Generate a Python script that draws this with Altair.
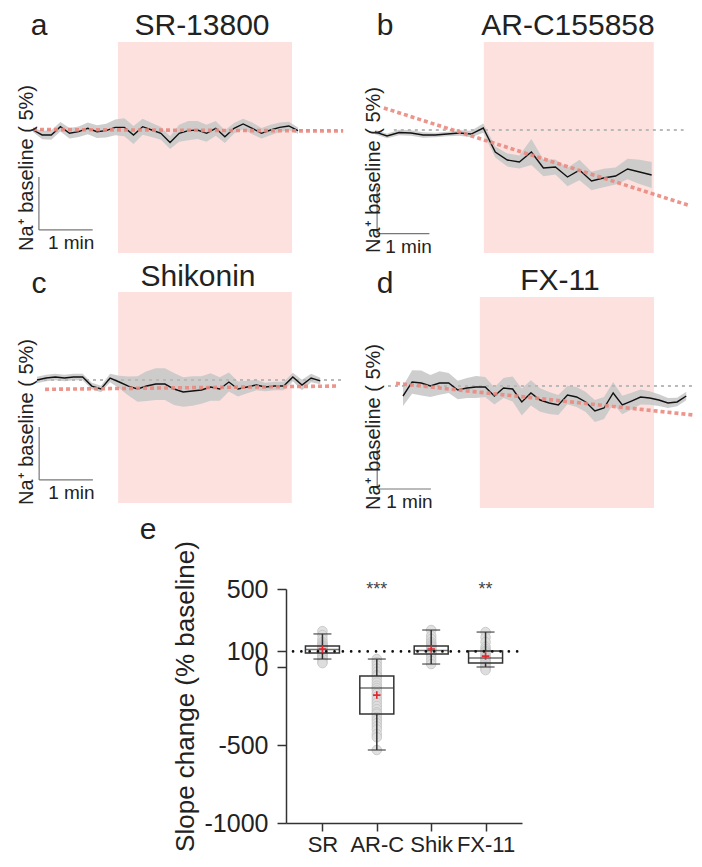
import altair as alt
import pandas as pd

FONT = "Liberation Sans"
INK = "#222222"
M = 8  # page margin: reference pixel -> chart pixel

# ---------------- traces: Na+ change from baseline (%) ----------------
a_mean = [0.0, -0.47, -0.47, 0.31, -0.31, -0.16, 0.16, -0.16, -0.06, 0.25,
          0.25, -0.47, 0.31, 0.0, -0.31, -1.19, -0.31, -0.06, 0.0, -0.31,
          0.16, -0.63, 0.16, 0.57, 0.16, -0.31, 0.0, 0.25, 0.38, -0.06]
a_sem = [0.2, 0.4, 0.45, 0.45, 0.5, 0.5, 0.55, 0.6, 0.65, 0.75,
         0.85, 0.85, 0.75, 0.65, 0.6, 0.6, 0.8, 0.9, 0.85, 0.8,
         0.7, 0.6, 0.5, 0.5, 0.55, 0.5, 0.5, 0.45, 0.4, 0.3]

b_mean = [-0.21, -0.64, -0.27, -0.32, -0.54, -0.54, -0.43, -0.32, -0.43, 0.21,
          -2.36, -3.22, -3.43, -2.36, -4.07, -3.97, -5.04, -4.29, -5.47, -5.14,
          -4.93, -4.18, -4.5, -4.82]
b_sem = [0.25, 0.25, 0.3, 0.3, 0.3, 0.25, 0.25, 0.3, 0.35, 0.5,
         0.6, 0.7, 0.7, 1.4, 0.9, 0.8, 1.0, 1.1, 1.0, 1.0,
         0.9, 1.1, 1.3, 1.4]

c_mean = [0.0, 0.19, 0.28, 0.19, 0.28, 0.28, -0.57, -0.85, 0.19, -0.19,
          -0.57, -0.85, -0.57, -0.38, -0.38, -0.85, -1.13, -1.04, -0.94, -0.66,
          -0.85, -0.19, -0.85, -0.66, -0.47, -0.66, -0.57, -0.57, 0.28, -0.47,
          0.19, -0.09]
c_sem = [0.3, 0.3, 0.3, 0.3, 0.3, 0.3, 0.3, 0.3, 0.4, 0.6,
         0.9, 1.2, 1.4, 1.5, 1.5, 1.5, 1.4, 1.4, 1.3, 1.3,
         1.1, 0.9, 0.7, 0.6, 0.5, 0.4, 0.4, 0.4, 0.4, 0.5,
         0.4, 0.3]

d_mean = [-1.19, 0.48, 0.36, 0.0, 0.36, 0.36, -0.48, -0.24, -0.12, -0.12,
          -1.19, -0.24, -0.36, -1.9, -0.83, -1.67, -2.02, -2.26, -1.07, -1.31,
          -1.9, -2.98, -2.62, -0.83, -2.26, -1.79, -1.31, -1.43, -1.67, -2.02,
          -1.9, -1.19]
d_sem = [1.2, 1.4, 1.5, 1.3, 1.4, 1.2, 1.1, 1.2, 1.3, 1.2,
         1.0, 1.2, 1.5, 1.6, 1.5, 1.4, 1.3, 1.2, 1.1, 1.2,
         1.2, 1.3, 1.3, 1.3, 1.1, 1.0, 0.9, 0.8, 0.7, 0.6,
         0.5, 0.5]

sample_min = [0.17, 0.23, 0.17, 0.17]          # sampling interval (min)
treat_start = [1.58, 2.08, 1.51, 1.43]          # drug application (min)
treat_end = [4.82, 5.33, 4.74, 4.67]
fit_t0 = [0.0, 0.17, 0.15, -0.13]               # linear fit (red dotted)
fit_y0 = [0.05, 2.36, -0.88, 0.32]
fit_t1 = [5.77, 5.98, 5.58, 5.54]
fit_y1 = [-0.1, -8.04, -0.57, -3.54]
base_t0 = [0.0, 0.36, 0.0, -0.28]               # baseline (grey dashed)
base_t1 = [5.77, 5.90, 5.69, 5.54]

panel_letters = ["a", "b", "c", "d"]
panel_titles = ["SR-13800", "AR-C155858", "Shikonin", "FX-11"]
y_label = "Na\u207a baseline ( 5%)"

# ---------------- box plot: slope change (% baseline) ----------------
cats = ["SR", "AR-C", "Shik", "FX-11"]
q1 = [90, -301, 83, 26]
q3 = [135, -58, 135, 103]
median = [112, -135, 105, 58]
mean = [115, -180, 115, 70]
whisk_lo = [51, -532, 19, 0]
whisk_hi = [212, 51, 237, 224]
pts_SR = [230, 205, 180, 160, 150, 140, 135, 130, 125, 120, 118, 115, 110, 105,
          100, 98, 95, 92, 90, 85, 80, 70, 60, 51, 35, 25]
pts_ARC = [51, 30, 10, -10, -30, -50, -60, -80, -100, -120, -135, -150, -170,
           -190, -210, -230, -250, -270, -290, -300, -320, -340, -360, -380,
           -400, -430, -450, -532]
pts_Shik = [237, 200, 180, 160, 150, 140, 135, 128, 120, 115, 110, 105, 100,
            95, 90, 85, 80, 60, 40, 19]
pts_FX = [224, 190, 160, 130, 115, 103, 95, 85, 75, 65, 58, 50, 40, 30, 26,
          15, 5, 0, -10, -20]
sig_cats = ["AR-C", "FX-11"]
sig_text = ["***", "**"]

# ---------------- layout (reference pixels) ----------------
LAYOUT = [
    dict(x0=33, ppm=53.75, y0=130, ppp=10.6, ext=(-11.6, 8.3), bar=(0.11, -4.43),
         letter=(39, 35), title=(202, 35), ylab=(27, 168)),
    dict(x0=375, ppm=52.3, y0=130, ppp=9.33, ext=(-13.18, 9.43), bar=(0.04, -6.11),
         letter=(385, 35), title=(568, 35), ylab=(374, 170)),
    dict(x0=37, ppm=53.75, y0=380, ppp=10.6, ext=(-11.6, 8.3), bar=(0.04, -4.43),
         letter=(39, 293), title=(198, 286), ylab=(27, 422)),
    dict(x0=403, ppm=53.75, y0=386, ppp=8.4, ext=(-14.52, 10.6), bar=(-0.48, -7.26),
         letter=(385, 293), title=(560, 290), ylab=(374, 427)),
]

means = [a_mean, b_mean, c_mean, d_mean]
sems = [a_sem, b_sem, c_sem, d_sem]

layers = []


def txt(label, px, py, size, angle=0, baseline="alphabetic"):
    kw = dict(text=label, font=FONT, fontSize=size, color=INK, align="center",
              baseline=baseline)
    if angle:
        kw["angle"] = angle
    return alt.Chart(pd.DataFrame({"k": [0]})).mark_text(**kw).encode(
        x=alt.value(px - M), y=alt.value(py - M))


for i in range(4):
    L = LAYOUT[i]
    xr0 = L["x0"] - M
    yr0 = L["y0"] - M
    xs = alt.Scale(domain=[0, 5], range=[xr0, xr0 + 5 * L["ppm"]], nice=False, zero=False)
    ys = alt.Scale(domain=[-10, 10], range=[yr0 + 10 * L["ppp"], yr0 - 10 * L["ppp"]],
                   nice=False, zero=False)

    def X(f):
        return alt.X(f, type="quantitative", scale=xs, axis=None)

    def Y(f):
        return alt.Y(f, type="quantitative", scale=ys, axis=None)

    m = means[i]
    s = sems[i]
    tr = pd.DataFrame({
        "t": [k * sample_min[i] for k in range(len(m))],
        "m": m,
        "lo": [v - e for v, e in zip(m, s)],
        "hi": [v + e for v, e in zip(m, s)],
    })
    win = pd.DataFrame({"t0": [treat_start[i]], "t1": [treat_end[i]],
                        "y0": [L["ext"][0]], "y1": [L["ext"][1]]})
    fit = pd.DataFrame({"t": [fit_t0[i], fit_t1[i]], "y": [fit_y0[i], fit_y1[i]]})
    base = pd.DataFrame({"t0": [base_t0[i]], "t1": [base_t1[i]], "y": [0.0]})
    bt, btop = L["bar"]
    sb = pd.DataFrame({"t0": [bt], "t1": [bt + 1.0], "ytop": [btop], "ybot": [btop - 5.0],
                       "tl": [bt + 0.6]})

    layers += [
        alt.Chart(win).mark_rect(color="#fce1df").encode(x=X("t0"), x2="t1", y=Y("y0"), y2="y1"),
        alt.Chart(tr).mark_area(color="#c9c9c9", opacity=0.9).encode(x=X("t"), y=Y("lo"), y2="hi"),
        alt.Chart(base).mark_rule(color="#b9b9b9", strokeWidth=2, strokeDash=[3, 4]).encode(
            x=X("t0"), x2="t1", y=Y("y")),
        alt.Chart(tr).mark_line(color="#111111", strokeWidth=1.4).encode(x=X("t"), y=Y("m")),
        alt.Chart(fit).mark_line(color="#e98a80", strokeWidth=3.6, strokeDash=[4, 3],
                                 opacity=0.9).encode(x=X("t"), y=Y("y")),
        alt.Chart(sb).mark_rule(color="#777777", strokeWidth=1.2).encode(
            x=X("t0"), y=Y("ytop"), y2="ybot"),
        alt.Chart(sb).mark_rule(color="#777777", strokeWidth=1.2).encode(
            x=X("t0"), x2="t1", y=Y("ybot")),
        alt.Chart(sb).mark_text(text="1 min", font=FONT, fontSize=19, color=INK,
                                baseline="middle", dy=13).encode(x=X("tl"), y=Y("ybot")),
    ]
    layers.append(txt(panel_letters[i], L["letter"][0], L["letter"][1], 30))
    layers.append(txt(panel_titles[i], L["title"][0], L["title"][1], 30))
    layers.append(txt(y_label, L["ylab"][0], L["ylab"][1], 20, angle=270, baseline="middle"))

# ---------------- box plot panel ----------------
AX_X = 286  # reference x of the y axis line
AX_Y = 823  # reference y of the x axis line
bx = alt.Scale(type="point", domain=cats, range=[AX_X - M, 522 - M], padding=0.67)
by = alt.Scale(domain=[-1000, 500], range=[AX_Y - M, 589 - M], nice=False, zero=False)


def BX(axis=None):
    if axis is None:
        return alt.X("cat:N", scale=bx, axis=None)
    return alt.X("cat:N", scale=bx, axis=axis)


def BY(f, axis=None):
    if axis is None:
        return alt.Y(f, type="quantitative", scale=by, axis=None)
    return alt.Y(f, type="quantitative", scale=by, axis=axis)


box = pd.DataFrame({"cat": cats, "q1": q1, "q3": q3, "med": median, "mean": mean,
                    "lo": whisk_lo, "hi": whisk_hi})
pts = pd.DataFrame({
    "cat": ["SR"] * len(pts_SR) + ["AR-C"] * len(pts_ARC) + ["Shik"] * len(pts_Shik)
           + ["FX-11"] * len(pts_FX),
    "v": pts_SR + pts_ARC + pts_Shik + pts_FX,
})
sig = pd.DataFrame({"cat": sig_cats, "s": sig_text, "y": [462, 462]})
ref = pd.DataFrame({"y": [100]})

x_axis = alt.Axis(orient="bottom", offset=(AX_Y - M) - 851, title=None, labelAngle=0,
                  labelFont=FONT, labelFontSize=22, labelColor=INK, labelPadding=3,
                  labelOverlap=False, tickSize=8, tickWidth=1.5, tickColor="#333",
                  domainColor="#333", domainWidth=1.5, grid=False)
y_axis = alt.Axis(orient="left", offset=-(AX_X - M), values=[500, 100, 0, -500, -1000],
                  labelExpr="'' + datum.value",
                  title="Slope change (% baseline)", titleFont=FONT, titleFontSize=26,
                  titleFontWeight="normal", titleColor=INK, titleAngle=270,
                  titleAlign="center", titleBaseline="bottom",
                  titleX=198 - AX_X, titleY=696 - M,
                  labelFont=FONT, labelFontSize=25, labelColor=INK, labelPadding=9,
                  labelOverlap=False, tickSize=9, tickWidth=1.5, tickColor="#333",
                  domainColor="#333", domainWidth=1.5, grid=False)

layers += [
    alt.Chart(pts).mark_point(filled=True, fill="#dedede", stroke="#c6c6c6", strokeWidth=1,
                              size=90, opacity=0.9).encode(x=BX(), y=BY("v")),
    alt.Chart(box).mark_rule(color="#333", strokeWidth=1.5).encode(x=BX(), y=BY("lo"), y2="q1"),
    alt.Chart(box).mark_rule(color="#333", strokeWidth=1.5).encode(x=BX(), y=BY("q3"), y2="hi"),
    alt.Chart(box).mark_tick(color="#333", thickness=1.5, size=18).encode(x=BX(), y=BY("lo")),
    alt.Chart(box).mark_tick(color="#333", thickness=1.5, size=18).encode(x=BX(), y=BY("hi")),
    alt.Chart(box).mark_bar(color="#333", fillOpacity=0, stroke="#333", strokeWidth=1.5,
                            size=34).encode(x=BX(x_axis), y=BY("q1", y_axis), y2="q3"),
    alt.Chart(box).mark_tick(color="#333", thickness=1.5, size=34).encode(x=BX(), y=BY("med")),
    alt.Chart(ref).mark_rule(color="#111", strokeWidth=2.6, strokeDash=[0.1, 8.2],
                             strokeCap="round").encode(
        y=BY("y"), x=alt.value(293 - M), x2=alt.value(521 - M)),
    alt.Chart(box).mark_point(shape="M-1,0L1,0M0,-1L0,1", size=56, filled=False,
                              stroke="#e3262f", strokeWidth=1.6, opacity=1).encode(
        x=BX(), y=BY("mean")),
    alt.Chart(sig).mark_text(font=FONT, fontSize=18, color="#444", baseline="alphabetic").encode(
        x=BX(), y=BY("y"), text="s:N"),
]
layers.append(txt("e", 148, 539, 30))

chart = alt.layer(*layers).resolve_scale(x="independent", y="independent").properties(
    width=686, height=851, padding=0, autosize=alt.AutoSizeParams(type="none"),
    background="white",
).configure_view(stroke=None)

chart.save("out.html", embed_options={"renderer": "svg", "actions": False})
